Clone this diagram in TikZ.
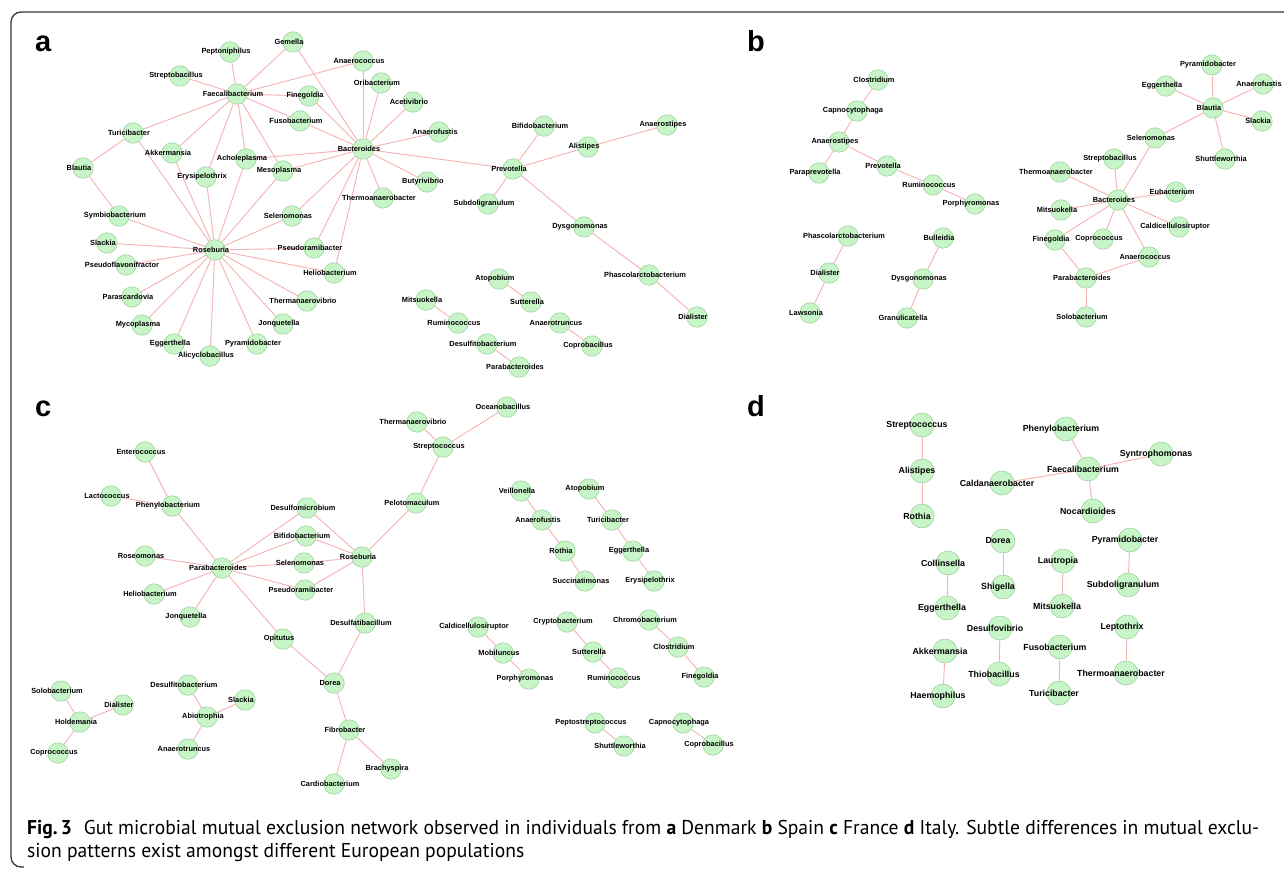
\documentclass[tikz,border=0pt]{standalone}
\usepackage{fontspec}
\usepackage{graphicx}
\setmainfont{Liberation Sans}
\newfontfamily\capfont{PT Sans}
\usetikzlibrary{backgrounds}
\definecolor{nodefill}{RGB}{200,245,200}
\definecolor{nodedraw}{RGB}{150,205,150}
\definecolor{edgecol}{RGB}{245,178,178}
\definecolor{framecol}{RGB}{55,55,55}
\tikzset{
 nd/.style={circle, fill=nodefill, draw=nodedraw, line width=0.5pt, minimum size=20.5pt, inner sep=0pt},
 ndd/.style={nd, minimum size=24pt},
 lbl/.style={font=\fontsize{7.4}{8}\selectfont\bfseries, inner sep=0pt, xshift=-4pt},
 lbld/.style={font=\fontsize{8.8}{10}\selectfont\bfseries, inner sep=0pt, xshift=-5pt},
 edge/.style={draw=edgecol, line width=0.9pt},
 panel/.style={font=\fontsize{29}{30}\selectfont\bfseries, anchor=base west, inner sep=0pt},
 capline/.style={anchor=base west, inner sep=0pt, font=\capfont\fontsize{20}{22}\selectfont},
}
\newcommand\bn[4]{\node[nd,label={[lbl]center:#4}] (#1) at (#2,#3) {};}
\newcommand\dn[4]{\node[ndd,label={[lbld]center:#4}] (#1) at (#2,#3) {};}
\newcommand\capone{\textbf{Fig.\,3}\hspace{0.6em}Gut microbial mutual exclusion network observed in individuals from \textbf{a} Denmark \textbf{b} Spain \textbf{c} France \textbf{d} Italy. Subtle differences in mutual exclu-}
\newcommand\captwo{sion patterns exist amongst different European populations}
\newlength\caplen
\newlength\captwolen
\newlength\capwtwo
\begin{document}
\settowidth\caplen{\capfont\fontsize{20}{22}\selectfont\capone}%
\settowidth\captwolen{\capfont\fontsize{20}{22}\selectfont\captwo}%
\setlength\capwtwo{\dimexpr 1232pt*\captwolen/\caplen\relax}%
\begin{tikzpicture}[x=1pt,y=-1pt]
\useasboundingbox (0,0) rectangle (1284,869);
\draw[framecol, line width=1.3pt, rounded corners=10pt] (1290,12) -- (11,12) -- (11,867) -- (24,867);
% panel letters
\node[panel] (la) at (35,52) {a};
\node[panel] (lb) at (747,52) {b};
\node[panel] (lc) at (35,416) {c};
\node[panel] (ld) at (747,416) {d};
% ---------- panel a ----------
\bn{aGem}{293}{42}{Gemella}
\bn{aPept}{230}{52}{Peptoniphilus}
\bn{aStrb}{180}{76}{Streptobacillus}
\bn{aFaec}{237}{94}{Faecalibacterium}
\bn{aAnc}{363}{61}{Anaerococcus}
\bn{aOri}{381}{83}{Oribacterium}
\bn{aAcet}{413}{102}{Acetivibrio}
\bn{aAnf}{439}{132}{Anaerofustis}
\bn{aBac}{363}{149}{Bacteroides}
\bn{aFin}{309}{96}{Finegoldia}
\bn{aFus}{300}{121}{Fusobacterium}
\bn{aTur}{133}{133}{Turicibacter}
\bn{aBla}{83}{168}{Blautia}
\bn{aAkk}{172}{153}{Akkermansia}
\bn{aAch}{246}{159}{Acholeplasma}
\bn{aEry}{206}{177}{Erysipelothrix}
\bn{aMes}{283}{171}{Mesoplasma}
\bn{aBut}{427}{182}{Butyrivibrio}
\bn{aTha}{383}{198}{Thermoanaerobacter}
\bn{aBif}{544}{126}{Bifidobacterium}
\bn{aAns}{667}{125}{Anaerostipes}
\bn{aAli}{588}{147}{Alistipes}
\bn{aPre}{513}{169}{Prevotella}
\bn{aSub}{488}{204}{Subdoligranulum}
\bn{aDys}{584}{227}{Dysgonomonas}
\bn{aPha}{649}{275}{Phascolarctobacterium}
\bn{aDia}{697}{317}{Dialister}
\bn{aAto}{499}{279}{Atopobium}
\bn{aSut}{531}{302}{Sutterella}
\bn{aMit}{426}{300}{Mitsuokella}
\bn{aRum}{458}{323}{Ruminococcus}
\bn{aAnt}{560}{323}{Anaerotruncus}
\bn{aCop}{592}{346}{Coprobacillus}
\bn{aDes}{487}{344}{Desulfitobacterium}
\bn{aPar}{519}{367}{Parabacteroides}
\bn{aSym}{119}{216}{Symbiobacterium}
\bn{aSel}{292}{216}{Selenomonas}
\bn{aSla}{107}{243}{Slackia}
\bn{aRos}{215}{250}{Roseburia}
\bn{aPsr}{314}{248}{Pseudoramibacter}
\bn{aPsf}{126}{265}{Pseudoflavonifractor}
\bn{aHel}{334}{273}{Heliobacterium}
\bn{aPas}{132}{297}{Parascardovia}
\bn{aThv}{307}{301}{Thermanaerovibrio}
\bn{aMyc}{142}{325}{Mycoplasma}
\bn{aJon}{283}{324}{Jonquetella}
\bn{aEgg}{174}{344}{Eggerthella}
\bn{aPyr}{257}{344}{Pyramidobacter}
\bn{aAlc}{210}{356}{Alicyclobacillus}
% ---------- panel b ----------
\bn{bClo}{878}{80}{Clostridium}
\bn{bCap}{857}{111}{Capnocytophaga}
\bn{bAns}{839}{142}{Anaerostipes}
\bn{bPpr}{819}{173}{Paraprevotella}
\bn{bPre}{887}{166}{Prevotella}
\bn{bRum}{933}{185}{Ruminococcus}
\bn{bPor}{975}{204}{Porphyromonas}
\bn{bPha}{848}{236}{Phascolarctobacterium}
\bn{bDia}{829}{273}{Dialister}
\bn{bLaw}{810}{313}{Lawsonia}
\bn{bBul}{943}{238}{Bulleidia}
\bn{bDys}{923}{279}{Dysgonomonas}
\bn{bGra}{907}{318}{Granulicatella}
\bn{bPyr}{1212}{65}{Pyramidobacter}
\bn{bEgg}{1166}{86}{Eggerthella}
\bn{bAnf}{1263}{84}{Anaerofustis}
\bn{bBla}{1213}{108}{Blautia}
\bn{bSla}{1262}{121}{Slackia}
\bn{bSel}{1155}{138}{Selenomonas}
\bn{bShu}{1225}{159}{Shuttleworthia}
\bn{bStb}{1114}{159}{Streptobacillus}
\bn{bTha}{1060}{172}{Thermoanaerobacter}
\bn{bBac}{1118}{200}{Bacteroides}
\bn{bEub}{1176}{192}{Eubacterium}
\bn{bMit}{1061}{210}{Mitsuokella}
\bn{bCal}{1179}{227}{Caldicellulosiruptor}
\bn{bFin}{1055}{240}{Finegoldia}
\bn{bCoc}{1103}{239}{Coprococcus}
\bn{bAnc}{1149}{257}{Anaerococcus}
\bn{bPar}{1086}{278}{Parabacteroides}
\bn{bSol}{1086}{317}{Solobacterium}
% ---------- panel c ----------
\bn{cEnt}{145}{452}{Enterococcus}
\bn{cLac}{111}{496}{Lactococcus}
\bn{cPhe}{172}{506}{Phenylobacterium}
\bn{cDsm}{307}{508}{Desulfomicrobium}
\bn{cBif}{306}{536}{Bifidobacterium}
\bn{cRsm}{145}{556}{Roseomonas}
\bn{cRos}{362}{557}{Roseburia}
\bn{cPel}{416}{503}{Pelotomaculum}
\bn{cThv}{417}{422}{Thermanaerovibrio}
\bn{cStr}{443}{447}{Streptococcus}
\bn{cOce}{507}{407}{Oceanobacillus}
\bn{cVei}{521}{491}{Veillonella}
\bn{cAnf}{542}{520}{Anaerofustis}
\bn{cRot}{565}{551}{Rothia}
\bn{cAto}{589}{489}{Atopobium}
\bn{cTur}{612}{520}{Turicibacter}
\bn{cEgg}{633}{551}{Eggerthella}
\bn{cSuc}{585}{581}{Succinatimonas}
\bn{cEry}{654}{581}{Erysipelothrix}
\bn{cPar}{222}{568}{Parabacteroides}
\bn{cSel}{304}{563}{Selenomonas}
\bn{cHel}{154}{594}{Heliobacterium}
\bn{cPsr}{305}{590}{Pseudoramibacter}
\bn{cJon}{190}{617}{Jonquetella}
\bn{cDsb}{365}{623}{Desulfatibacillum}
\bn{cOpi}{283}{639}{Opitutus}
\bn{cDor}{334}{683}{Dorea}
\bn{cSol}{61}{691}{Solobacterium}
\bn{cDsf}{188}{685}{Desulfitobacterium}
\bn{cSla}{245}{700}{Slackia}
\bn{cDia}{123}{705}{Dialister}
\bn{cHol}{80}{722}{Holdemania}
\bn{cAbi}{207}{717}{Abiotrophia}
\bn{cFib}{349}{730}{Fibrobacter}
\bn{cCoc}{58}{753}{Coprococcus}
\bn{cAnt}{188}{749}{Anaerotruncus}
\bn{cBra}{391}{769}{Brachyspira}
\bn{cCar}{334}{784}{Cardiobacterium}
\bn{cCal}{478}{627}{Caldicellulosiruptor}
\bn{cCry}{567}{622}{Cryptobacterium}
\bn{cChr}{649}{620}{Chromobacterium}
\bn{cMob}{503}{653}{Mobiluncus}
\bn{cSut}{593}{652}{Sutterella}
\bn{cClo}{678}{647}{Clostridium}
\bn{cPor}{529}{679}{Porphyromonas}
\bn{cRum}{618}{678}{Ruminococcus}
\bn{cFin}{704}{677}{Finegoldia}
\bn{cPep}{595}{723}{Peptostreptococcus}
\bn{cShu}{624}{746}{Shuttleworthia}
\bn{cCap}{683}{723}{Capnocytophaga}
\bn{cCop}{713}{745}{Coprobacillus}
% ---------- panel d ----------
\dn{dStr}{922}{425}{Streptococcus}
\dn{dAli}{922}{471}{Alistipes}
\dn{dRot}{922}{516}{Rothia}
\dn{dPhe}{1066}{429}{Phenylobacterium}
\dn{dFae}{1088}{469}{Faecalibacterium}
\dn{dSyn}{1161}{454}{Syntrophomonas}
\dn{dCal}{1002}{483}{Caldanaerobacter}
\dn{dNoc}{1093}{511}{Nocardioides}
\dn{dDor}{1003}{541}{Dorea}
\dn{dPyr}{1130}{540}{Pyramidobacter}
\dn{dCol}{948}{563}{Collinsella}
\dn{dLau}{1063}{561}{Lautropia}
\dn{dShi}{1003}{587}{Shigella}
\dn{dSub}{1128}{585}{Subdoligranulum}
\dn{dEgg}{947}{608}{Eggerthella}
\dn{dMit}{1062}{606}{Mitsuokella}
\dn{dDsv}{1000}{628}{Desulfovibrio}
\dn{dLep}{1127}{627}{Leptothrix}
\dn{dAkk}{945}{651}{Akkermansia}
\dn{dFus}{1060}{647}{Fusobacterium}
\dn{dThi}{999}{674}{Thiobacillus}
\dn{dTha}{1126}{673}{Thermoanaerobacter}
\dn{dHae}{943}{696}{Haemophilus}
\dn{dTur}{1059}{693}{Turicibacter}
% ---------- edges (behind the nodes) ----------
\begin{scope}[on background layer]
\fill[white] (0,0) rectangle (1284,869);
\foreach \u/\v in {aFaec/aPept,aFaec/aStrb,aFaec/aGem,aFaec/aAnc,aFaec/aFin,aFaec/aFus,aFaec/aTur,aFaec/aAkk,aFaec/aAch,aFaec/aEry,aFaec/aMes,
 aBac/aGem,aBac/aAnc,aBac/aOri,aBac/aAcet,aBac/aAnf,aBac/aBut,aBac/aTha,aBac/aPre,aBac/aFin,aBac/aFus,aBac/aAch,aBac/aMes,aBac/aSel,aBac/aPsr,aBac/aHel,
 aRos/aTur,aRos/aAkk,aRos/aEry,aRos/aAch,aRos/aMes,aRos/aSym,aRos/aSla,aRos/aPsf,aRos/aPas,aRos/aMyc,aRos/aEgg,aRos/aAlc,aRos/aPyr,aRos/aJon,aRos/aThv,aRos/aHel,aRos/aPsr,aRos/aSel,
 aTur/aBla,aBla/aSym,aPre/aBif,aPre/aAli,aAli/aAns,aPre/aSub,aPre/aDys,aDys/aPha,aPha/aDia,aAto/aSut,aMit/aRum,aAnt/aCop,aDes/aPar,
 bClo/bCap,bCap/bAns,bAns/bPpr,bAns/bPre,bPre/bRum,bRum/bPor,bPha/bDia,bDia/bLaw,bBul/bDys,bDys/bGra,
 bBla/bPyr,bBla/bEgg,bBla/bAnf,bBla/bSla,bBla/bShu,bBla/bSel,bSel/bBac,bBac/bStb,bBac/bTha,bBac/bEub,bBac/bMit,bBac/bCal,bBac/bFin,bBac/bCoc,bBac/bAnc,bFin/bPar,bAnc/bPar,bPar/bSol,
 cEnt/cPhe,cLac/cPhe,cPhe/cPar,cPar/cDsm,cPar/cBif,cPar/cSel,cPar/cPsr,cPar/cRsm,cPar/cHel,cPar/cJon,cPar/cOpi,
 cRos/cDsm,cRos/cBif,cRos/cSel,cRos/cPsr,cRos/cPel,cRos/cDsb,cPel/cStr,cStr/cThv,cStr/cOce,cDsb/cDor,cOpi/cDor,cDor/cFib,cFib/cCar,cFib/cBra,
 cVei/cAnf,cAnf/cRot,cRot/cSuc,cAto/cTur,cTur/cEgg,cEgg/cEry,cCal/cMob,cMob/cPor,cCry/cSut,cSut/cRum,cChr/cClo,cClo/cFin,cPep/cShu,cCap/cCop,
 cSol/cHol,cHol/cDia,cHol/cCoc,cDsf/cAbi,cAbi/cSla,cAbi/cAnt,
 dStr/dAli,dAli/dRot,dPhe/dFae,dFae/dSyn,dFae/dCal,dFae/dNoc,dDor/dShi,dPyr/dSub,dCol/dEgg,dLau/dMit,dDsv/dThi,dLep/dTha,dAkk/dHae,dFus/dTur}
 \draw[edge] (\u) -- (\v);
\end{scope}
% ---------- caption ----------
\node[capline] (cap1) at (27,834) {\resizebox{1232pt}{\height}{\capone}};
\node[capline] (cap2) at (27,857) {\resizebox{\capwtwo}{\height}{\captwo}};
\end{tikzpicture}
\end{document}
